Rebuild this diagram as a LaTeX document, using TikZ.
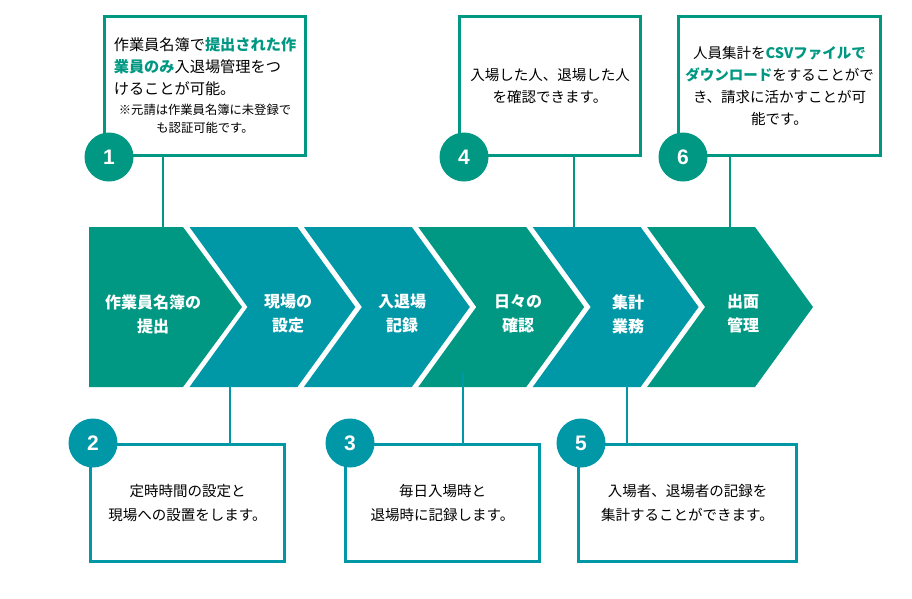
\documentclass[tikz,border=0pt]{standalone}
\usepackage{fontspec}
\setmainfont{Noto Sans CJK JP}
\newfontfamily\numfont{Liberation Sans}
\usepackage{xcolor}
\usetikzlibrary{positioning,calc}
\definecolor{tgreen}{RGB}{0,152,130}
\definecolor{tblue}{RGB}{0,151,167}
\newcommand{\hili}[1]{{\bfseries\color{tgreen}#1}}
\tikzset{
  topbox/.style={rectangle, draw=tgreen, line width=3pt, fill=white,
                 inner sep=0pt, minimum height=139pt, align=center,
                 font=\fontsize{14.5}{22}\selectfont},
  botbox/.style={rectangle, draw=tblue, line width=3pt, fill=white,
                 inner sep=0pt, minimum height=117pt, align=center,
                 font=\fontsize{14.5}{24}\selectfont},
  numg/.style={circle, fill=tgreen, minimum size=49pt, inner sep=0pt,
               text=white, font=\numfont\bfseries\fontsize{21}{21}\selectfont},
  numb/.style={numg, fill=tblue},
  stagetxt/.style={text=white, align=center,
                   font=\bfseries\fontsize{16}{24}\selectfont},
  linkg/.style={draw=tgreen, line width=2.8pt},
  linkb/.style={draw=tblue, line width=2.8pt}
}
\begin{document}
\begin{tikzpicture}[x=1pt, y=-1pt]
  \useasboundingbox (0,0) rectangle (912,598);
  % chevrons
  \fill[tgreen] (89,227) -- (183,227) -- (242,307) -- (183,387) -- (89,387) -- cycle;
  \foreach \c [count=\i] in {tblue,tblue,tgreen,tblue,tgreen}
    \fill[\c] ({183+114.4*(\i-1)+6.5},227) -- ({183+114.4*\i},227)
      -- ({241+114.4*\i},307) -- ({183+114.4*\i},387)
      -- ({183+114.4*(\i-1)+6.5},387) -- ({241+114.4*(\i-1)+6.5},307) -- cycle;
  \node[stagetxt] (s1) at (153,314) {作業員名簿の\\提出};
  \node[stagetxt] (s2) at (288,314) {現場の\\設定};
  \node[stagetxt] (s3) at (402,314) {入退場\\記録};
  \node[stagetxt] (s4) at (518,314) {日々の\\確認};
  \node[stagetxt] (s5) at (628,314) {集計\\業務};
  \node[stagetxt] (s6) at (743,314) {出面\\管理};

  % boxes
  \node[topbox, minimum width=201pt] (b1) at (205,86) {};
  \node[topbox, minimum width=181pt] (b4) at (550,86)
    {入場した人、退場した人\\を確認できます。};
  \node[topbox, minimum width=202pt] (b6) at (779.5,86)
    {人員集計を\hili{CSVファイルで}\\\hili{ダウンロード}をすることがで\\き、請求に活かすことが可\\能です。};
  \node[botbox, minimum width=194pt] (b2) at (187.5,503)
    {定時時間の設定と\\現場への設置をします。};
  \node[botbox, minimum width=194pt] (b3) at (442.5,503)
    {毎日入場時と\\退場時に記録します。};
  \node[botbox, minimum width=218pt] (b5) at (687.5,503)
    {入場者、退場者の記録を\\集計することができます。};
  \node[align=left, font=\fontsize{15.2}{22}\selectfont] (t1)
    at ([yshift=19pt]b1.center)
    {作業員名簿で\hili{提出された作}\\\hili{業員のみ}入退場管理をつ\\けることが可能。};
  \node[align=center, font=\fontsize{12.3}{18}\selectfont] (n1)
    at ([yshift=-33pt]b1.center) {※元請は作業員名簿に未登録で\\も認証可能です。};

  % connectors
  \coordinate (k1) at (163,227);
  \coordinate (k2) at (230,387);
  \coordinate (k3) at (463,372);
  \coordinate (k4) at (574,227);
  \coordinate (k5) at (627,387);
  \coordinate (k6) at (730,227);
  \draw[linkg] (b1.south -| k1) -- (k1);
  \draw[linkg] (b4.south -| k4) -- (k4);
  \draw[linkg] (b6.south -| k6) -- (k6);
  \draw[linkb] (k2) -- (k2 |- b2.north);
  \draw[linkb] (k3) -- (k3 |- b3.north);
  \draw[linkb] (k5) -- (k5 |- b5.north);

  % numbers
  \node[numg] (c1) at ([xshift=6pt]b1.south west) {1};
  \node[numg] (c4) at ([xshift=6pt]b4.south west) {4};
  \node[numg] (c6) at ([xshift=6pt]b6.south west) {6};
  \node[numb] (c2) at ([xshift=4pt]b2.north west) {2};
  \node[numb] (c3) at ([xshift=6pt]b3.north west) {3};
  \node[numb] (c5) at ([xshift=4pt]b5.north west) {5};
\end{tikzpicture}
\end{document}
